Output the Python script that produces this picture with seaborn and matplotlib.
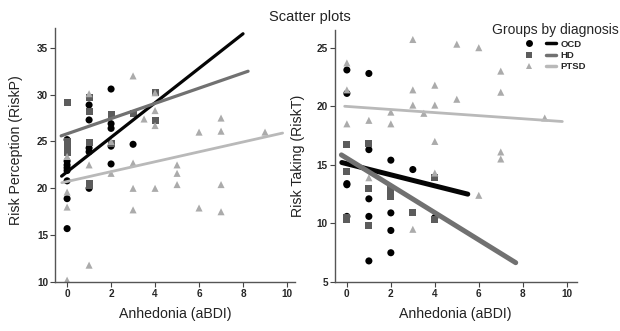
import pandas as pd
import seaborn as sns
import matplotlib.pyplot as plt
from matplotlib.lines import Line2D
from matplotlib.legend_handler import HandlerTuple

groups = ["OCD", "HD", "PTSD"]

# left panel: risk perception vs anhedonia
riskp_ocd_x = [0, 0, 0, 0, 0, 0, 0, 0, 1, 1, 1, 1, 1, 2, 2, 2, 2, 2, 3]
riskp_ocd_y = [25.2, 22.9, 22.5, 22.2, 21.9, 20.8, 18.9, 15.7, 28.9, 27.3, 24.3, 23.9, 20.0,
               30.6, 26.9, 26.4, 24.5, 22.6, 24.7]
riskp_hd_x = [0, 0, 0, 0, 0, 0, 1, 1, 1, 1, 1, 2, 2, 3, 4, 4]
riskp_hd_y = [29.2, 25.0, 24.7, 24.4, 24.1, 23.8, 29.7, 28.2, 24.9, 20.5, 20.3, 27.9, 24.8,
              28.0, 30.2, 27.2]
riskp_ptsd_x = [0, 0, 0, 0, 1, 1, 1, 2, 2, 3, 3, 3, 3, 3.5, 4, 4, 4, 4, 5, 5, 5, 6, 6,
                7, 7, 7, 7, 9]
riskp_ptsd_y = [23.4, 19.6, 18.0, 10.2, 30.1, 22.5, 11.8, 25.0, 21.6, 32.0, 22.7, 20.0, 17.7,
                27.4, 30.2, 28.3, 26.7, 20.0, 22.5, 21.6, 20.4, 26.0, 17.9, 27.5, 26.1, 20.4,
                17.5, 26.0]

# right panel: risk taking vs anhedonia
riskt_ocd_x = [0, 0, 0, 0, 0, 1, 1, 1, 1, 1, 2, 2, 2, 2, 3, 4]
riskt_ocd_y = [23.1, 21.1, 13.4, 13.3, 10.6, 22.8, 16.3, 12.1, 10.6, 6.8, 15.4, 10.9, 9.4,
               7.5, 14.6, 10.5]
riskt_hd_x = [0, 0, 0, 0, 1, 1, 1, 2, 2, 2, 3, 4, 4]
riskt_hd_y = [16.7, 14.4, 10.5, 10.3, 16.8, 13.0, 9.8, 12.9, 12.6, 12.3, 10.9, 13.9, 10.3]
riskt_ptsd_x = [0, 0, 0, 1, 1, 2, 2, 3, 3, 3, 3, 3.5, 4, 4, 4, 4, 5, 5, 6, 6, 7, 7, 7, 7, 9]
riskt_ptsd_y = [23.7, 21.4, 18.5, 18.8, 13.9, 19.5, 18.5, 25.7, 21.4, 20.1, 9.5, 19.4,
                21.8, 20.1, 17.0, 14.3, 25.3, 20.6, 25.0, 12.4, 23.0, 21.2, 16.1, 15.5, 19.0]

# fit lines (start/end), order = groups
riskp_fit_x = [[-0.25, 8.0], [-0.27, 8.23], [-0.24, 9.8]]
riskp_fit_y = [[21.3, 36.5], [25.6, 32.5], [20.6, 25.9]]
riskt_fit_x = [[-0.23, 5.5], [-0.25, 7.68], [-0.1, 9.8]]
riskt_fit_y = [[15.2, 12.5], [15.85, 6.65], [20.0, 18.7]]

x_ticks = [0, 2, 4, 6, 8, 10]
riskp_ticks = [10, 15, 20, 25, 30, 35]
riskt_ticks = [5, 10, 15, 20, 25]

#build long tables
def make_df(xs, ys, name):
    rows = []
    for g, x, y in zip(groups, xs, ys):
        rows.append(pd.DataFrame({"aBDI": x, name: y, "group": g}))
    return pd.concat(rows, ignore_index=True)

dfp = make_df([riskp_ocd_x, riskp_hd_x, riskp_ptsd_x], [riskp_ocd_y, riskp_hd_y, riskp_ptsd_y], "RiskP")
dft = make_df([riskt_ocd_x, riskt_hd_x, riskt_ptsd_x], [riskt_ocd_y, riskt_hd_y, riskt_ptsd_y], "RiskT")

sns.set_style("white")
plt.rcParams["font.family"] = ["Liberation Sans", "DejaVu Sans"]

pal = {"OCD": "#000000", "HD": "#5c5c5c", "PTSD": "#ababab"}
marks = {"OCD": "o", "HD": "s", "PTSD": "^"}
line_col = {"OCD": "#050505", "HD": "#717171", "PTSD": "#b9b9b9"}

fig = plt.figure(figsize=(6.2, 3.31), dpi=100)
ax1 = fig.add_axes([0.0887, 0.148, 0.387, 0.767])
ax2 = fig.add_axes([0.540, 0.148, 0.390, 0.761])

panels = [
    (ax1, dfp, "RiskP", riskp_fit_x, riskp_fit_y, [2.3, 2.3, 2.0], (-0.55, 10.36), (10, 37.1),
     riskp_ticks, "Risk Perception (RiskP)"),
    (ax2, dft, "RiskT", riskt_fit_x, riskt_fit_y, [3.6, 3.6, 2.0], (-0.55, 10.45), (5, 26.5),
     riskt_ticks, "Risk Taking (RiskT)"),
]

for ax, df, col, fx, fy, lws, xl, yl, yt, ylab in panels:
    sns.scatterplot(data=df, x="aBDI", y=col, hue="group", style="group", hue_order=groups,
                    style_order=groups, palette=pal, markers=marks, s=26, linewidth=0,
                    legend=False, ax=ax, zorder=2)
    for i, g in enumerate(groups):
        sns.lineplot(x=fx[i], y=fy[i], color=line_col[g], lw=lws[i], ax=ax, zorder=3)
    ax.set_xlim(*xl)
    ax.set_ylim(*yl)
    ax.set_xticks(x_ticks)
    ax.set_yticks(yt)
    ax.tick_params(axis="both", direction="out", length=3.5, width=0.8, color="#444444",
                   labelsize=7.2, pad=1.5, left=True, bottom=True)
    for lab in ax.get_xticklabels() + ax.get_yticklabels():
        lab.set_fontweight("bold")
    sns.despine(ax=ax)
    for sp in ["left", "bottom"]:
        ax.spines[sp].set_color("#555555")
        ax.spines[sp].set_linewidth(1.0)
    ax.set_xlabel("Anhedonia (aBDI)", fontsize=10.2, color="#222222")
    ax.set_ylabel(ylab, fontsize=10.2, color="#222222")
    ax.xaxis.set_label_coords(0.5, -0.1)

ax1.yaxis.set_label_coords(-0.135, 0.52)
ax2.yaxis.set_label_coords(-0.125, 0.5)

fig.text(0.5, 0.95, "Scatter plots", ha="center", va="center", fontsize=10.5, color="#222222")

handles = []
for g in groups:
    handles.append((Line2D([], [], marker=marks[g], ls="none", color=pal[g], ms=5, mew=0),
                    Line2D([], [], color=line_col[g], lw=2.5)))
fig.legend(handles, groups, handler_map={tuple: HandlerTuple(ndivide=None, pad=1.3)},
           title="Groups by diagnosis", title_fontsize=10, loc="upper left",
           bbox_to_anchor=(0.793, 0.93), frameon=False, prop={"weight": "bold", "size": 6.8},
           handlelength=3.4, handletextpad=0.5, labelspacing=0.25, borderpad=0,
           borderaxespad=0)

fig.savefig("out.png", dpi=100)
